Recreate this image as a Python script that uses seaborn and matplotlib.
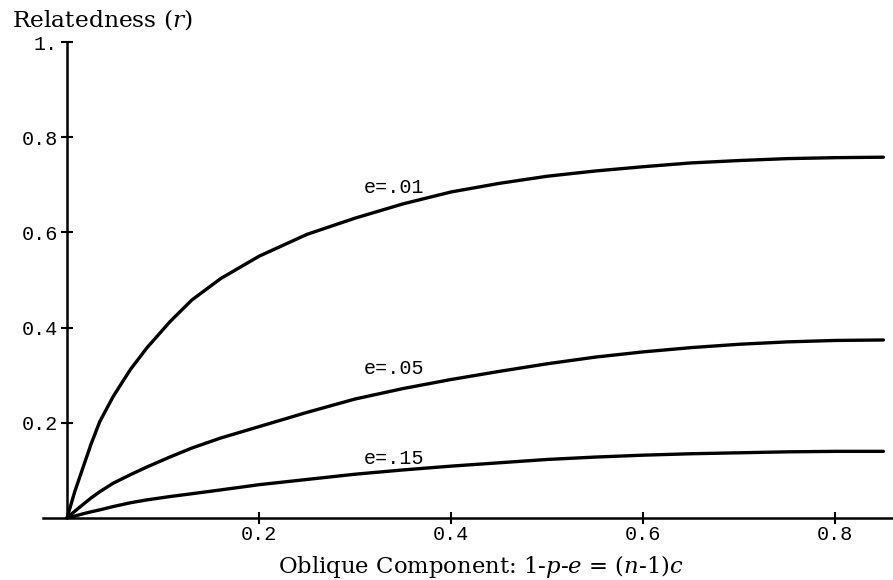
import numpy as np
import pandas as pd
import matplotlib
matplotlib.use("Agg")
import matplotlib.pyplot as plt
import seaborn as sns

# ---- data ----
x_vals = [0, 0.008, 0.017, 0.025, 0.034, 0.048, 0.066, 0.083, 0.107, 0.13, 0.16, 0.20,
          0.25, 0.30, 0.35, 0.40, 0.45, 0.50, 0.55, 0.60, 0.65, 0.70, 0.75, 0.80, 0.85]
r_e01 = [0, 0.055, 0.108, 0.155, 0.202, 0.255, 0.312, 0.357, 0.412, 0.458, 0.503, 0.550,
         0.596, 0.630, 0.660, 0.685, 0.703, 0.718, 0.729, 0.738, 0.746, 0.751, 0.755, 0.757, 0.758]
r_e05 = [0, 0.014, 0.029, 0.042, 0.055, 0.073, 0.091, 0.107, 0.128, 0.147, 0.168, 0.192,
         0.222, 0.250, 0.272, 0.291, 0.308, 0.324, 0.338, 0.349, 0.358, 0.365, 0.370, 0.373, 0.374]
r_e15 = [0, 0.004, 0.009, 0.013, 0.017, 0.024, 0.032, 0.038, 0.045, 0.051, 0.059, 0.070,
         0.081, 0.092, 0.101, 0.109, 0.116, 0.123, 0.128, 0.132, 0.135, 0.137, 0.139, 0.140, 0.140]
series_labels = ["e=.01", "e=.05", "e=.15"]
label_x = [0.340, 0.340, 0.340]
label_y = [0.695, 0.315, 0.124]
x_ticks = [0.2, 0.4, 0.6, 0.8]
x_tick_labels = ["0.2", "0.4", "0.6", "0.8"]
y_ticks = [0.2, 0.4, 0.6, 0.8, 1.0]
y_tick_labels = ["0.2", "0.4", "0.6", "0.8", "1."]

df = pd.DataFrame({
    "x": x_vals * 3,
    "r": r_e01 + r_e05 + r_e15,
    "series": sum([[s] * len(x_vals) for s in series_labels], []),
})

sns.set_style("white")
plt.rcParams["mathtext.fontset"] = "dejavuserif"
plt.rcParams["text.color"] = "black"

W, H = 893, 580
fig = plt.figure(figsize=(W / 100, H / 100), dpi=100)
ax = fig.add_axes([43 / W, (H - 518) / H, 850 / W, 476 / H])

for s in series_labels:
    sns.lineplot(data=df[df["series"] == s], x="x", y="r", ax=ax,
                 color="black", linewidth=2.4, legend=False)

ax.set_xlim(-0.025, 0.860)
ax.set_ylim(0, 1.0)

for sp in ["top", "right"]:
    ax.spines[sp].set_visible(False)
ax.spines["left"].set_position(("data", 0))
ax.spines["bottom"].set_position(("data", 0))
ax.spines["left"].set_bounds(0, 1.0)
for sp in ["left", "bottom"]:
    ax.spines[sp].set_linewidth(1.8)
    ax.spines[sp].set_color("black")
    ax.spines[sp].set_clip_on(False)

ax.set_xticks(x_ticks)
ax.set_xticklabels(x_tick_labels)
ax.set_yticks(y_ticks)
ax.set_yticklabels(y_tick_labels)
ax.tick_params(axis="both", which="major", bottom=True, left=True, direction="inout",
               length=8.5, width=1.5, color="black", labelsize=14.5, labelcolor="black")
ax.tick_params(axis="x", pad=1)
ax.tick_params(axis="y", pad=2)
for lab in ax.get_xticklabels() + ax.get_yticklabels():
    lab.set_family("Liberation Mono")

ax.set_xlabel("")
ax.set_ylabel("")

for s, lx, ly in zip(series_labels, label_x, label_y):
    ax.text(lx, ly, s, family="Liberation Mono", fontsize=14.5, ha="center", va="center",
            color="black")

fig.text(12 / W, 1 - 27 / H, "Relatedness $(r)$", family="DejaVu Serif", fontsize=16.8,
         ha="left", va="baseline", color="black")
fig.text(481 / W, 1 - 573 / H, "Oblique Component: 1-$p$-$e$ = ($n$-1)$c$",
         family="DejaVu Serif", fontsize=16.4, ha="center", va="baseline", color="black")

fig.savefig("out.png", dpi=100, facecolor="white")
